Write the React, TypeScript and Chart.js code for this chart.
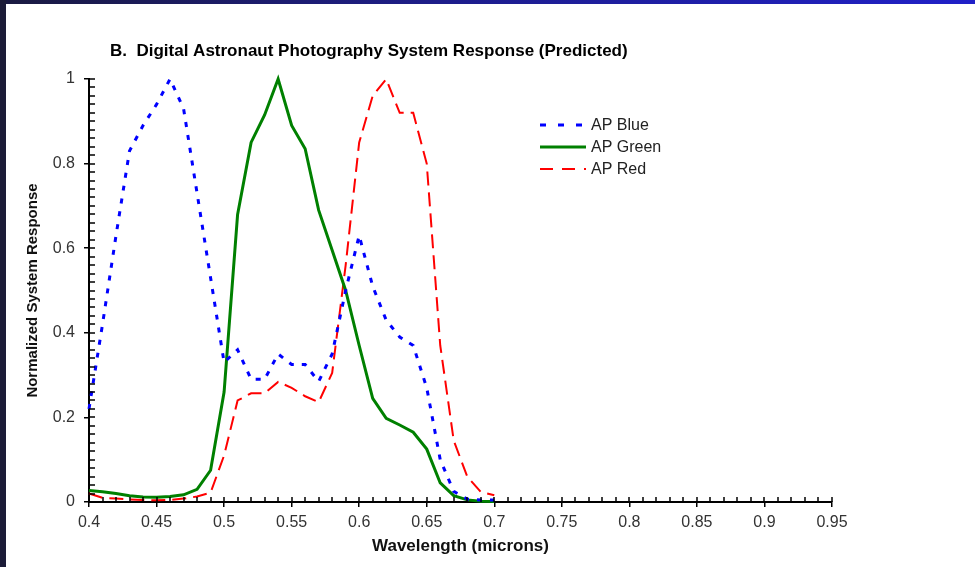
import { useEffect, useRef } from "react";
import { Chart, registerables } from "chart.js";

Chart.register(...registerables);

// Wavelength samples (microns)
const wavelengths = [
  0.40, 0.41, 0.42, 0.43, 0.44, 0.45, 0.46, 0.47, 0.48, 0.49,
  0.50, 0.51, 0.52, 0.53, 0.54, 0.55, 0.56, 0.57, 0.58, 0.59,
  0.60, 0.61, 0.62, 0.63, 0.64, 0.65, 0.66, 0.67, 0.68, 0.69, 0.70,
];

const apBlue = [
  0.22, 0.42, 0.63, 0.83, 0.89, 0.94, 1.0, 0.93, 0.73, 0.53,
  0.33, 0.36, 0.29, 0.29, 0.35, 0.325, 0.325, 0.285, 0.35, 0.50,
  0.63, 0.51, 0.43, 0.39, 0.37, 0.27, 0.10, 0.025, 0.007, 0.005, 0.005,
];

const apGreen = [
  0.027, 0.024, 0.02, 0.015, 0.012, 0.011, 0.013, 0.017, 0.03, 0.075,
  0.26, 0.68, 0.85, 0.915, 1.0, 0.89, 0.835, 0.69, 0.595, 0.50,
  0.37, 0.245, 0.198, 0.182, 0.165, 0.125, 0.045, 0.015, 0.005, 0.002, 0.001,
];

const apRed = [
  0.02, 0.01, 0.008, 0.006, 0.005, 0.004, 0.005, 0.008, 0.013, 0.022,
  0.11, 0.24, 0.257, 0.257, 0.284, 0.27, 0.25, 0.236, 0.305, 0.56,
  0.85, 0.96, 1.0, 0.92, 0.92, 0.80, 0.37, 0.145, 0.06, 0.024, 0.016,
];

const seriesNames = ["AP Blue", "AP Green", "AP Red"];
const seriesColors = ["#0000ff", "#008000", "#ff0000"];
const titleText = "B.  Digital Astronaut Photography System Response (Predicted)";
const xTitle = "Wavelength (microns)";
const yTitle = "Normalized System Response";

const FONT = "'Liberation Sans', Arial, Helvetica, sans-serif";

export default function App() {
  const canvasRef = useRef<HTMLCanvasElement | null>(null);

  useEffect(() => {
    document.body.style.margin = "0";
    const canvas = canvasRef.current;
    if (!canvas) return;

    const pts = (vals: number[]) => wavelengths.map((x, i) => ({ x, y: vals[i] }));

    const dashes = [[5, 8], [], [14, 7]];
    const legendDashes = [[6, 12], [], [13, 9]];
    const widths = [3, 3, 2];

    const decor = {
      id: "decor",
      afterDraw(chart: any) {
        const c = chart.ctx as CanvasRenderingContext2D;
        const xs = chart.scales.x;
        const ys = chart.scales.y;
        const { left, bottom } = chart.chartArea;
        c.save();
        // inner (minor + major) ticks
        c.strokeStyle = "#000";
        c.lineWidth = 1.5;
        c.setLineDash([]);
        c.beginPath();
        for (let i = 0; i <= 55; i++) {
          const px = Math.round(xs.getPixelForValue(0.4 + i * 0.01));
          c.moveTo(px, bottom);
          c.lineTo(px, bottom - 5);
        }
        for (let i = 0; i <= 50; i++) {
          const py = Math.round(ys.getPixelForValue(i * 0.02));
          c.moveTo(left, py);
          c.lineTo(left + 6, py);
        }
        c.stroke();

        // title
        c.fillStyle = "#000";
        c.font = `bold 17px ${FONT}`;
        c.textBaseline = "middle";
        c.textAlign = "left";
        c.fillText(titleText, 110, 51);

        // legend
        seriesNames.forEach((name, i) => {
          const y = 125 + i * 22;
          c.strokeStyle = seriesColors[i];
          c.lineWidth = widths[i];
          c.setLineDash(legendDashes[i]);
          c.beginPath();
          c.moveTo(540, y);
          c.lineTo(586, y);
          c.stroke();
          c.setLineDash([]);
          c.fillStyle = "#222";
          c.font = `16px ${FONT}`;
          c.fillText(name, 591, y + 1);
        });
        c.restore();
      },
    };

    const chart = new Chart(canvas, {
      type: "line",
      data: {
        datasets: [apBlue, apGreen, apRed].map((vals, i) => ({
          label: seriesNames[i],
          data: pts(vals),
          borderColor: seriesColors[i],
          backgroundColor: seriesColors[i],
          borderWidth: widths[i],
          borderDash: dashes[i],
          pointRadius: 0,
          tension: 0,
          fill: false,
          clip: 6,
        })),
      },
      options: {
        responsive: false,
        animation: false,
        parsing: true,
        layout: { padding: { left: 0, top: 79, right: 143, bottom: 0 } },
        plugins: {
          legend: { display: false },
          title: { display: false },
          tooltip: { enabled: false },
        },
        scales: {
          x: {
            type: "linear",
            min: 0.4,
            max: 0.95,
            afterFit: (s: any) => {
              s.height = 65;
            },
            ticks: {
              stepSize: 0.05,
              autoSkip: false,
              maxRotation: 0,
              padding: 6,
              color: "#333",
              font: { family: FONT, size: 16 },
              callback: (v: any) => String(Number(Number(v).toFixed(2))),
            },
            grid: {
              drawOnChartArea: false,
              drawTicks: true,
              tickLength: 5,
              color: "#000",
              lineWidth: 1.5,
            },
            border: { display: true, color: "#000", width: 2 },
            title: {
              display: true,
              text: xTitle,
              color: "#111",
              font: { family: FONT, size: 17, weight: "bold" },
              padding: { top: 0, bottom: 10 },
            },
          },
          y: {
            type: "linear",
            min: 0,
            max: 1,
            afterFit: (s: any) => {
              s.width = 89;
            },
            ticks: {
              stepSize: 0.2,
              padding: 9,
              color: "#333",
              font: { family: FONT, size: 16 },
              callback: (v: any) => String(Number(Number(v).toFixed(1))),
            },
            grid: {
              drawOnChartArea: false,
              drawTicks: true,
              tickLength: 5,
              color: "#000",
              lineWidth: 1.5,
            },
            border: { display: true, color: "#000", width: 2 },
            title: {
              display: true,
              text: yTitle,
              color: "#111",
              font: { family: FONT, size: 15, weight: "bold" },
              padding: { top: 24, bottom: 0 },
            },
          },
        },
      },
      plugins: [decor],
    } as any);

    return () => chart.destroy();
  }, []);

  return (
    <div style={{ position: "relative", width: 975, height: 567, background: "#fff", overflow: "hidden" }}>
      <canvas
        ref={canvasRef}
        width={975}
        height={567}
        style={{ position: "absolute", left: 0, top: 0, display: "block" }}
      />
      <div
        style={{
          position: "absolute",
          left: 0,
          top: 0,
          width: 975,
          height: 4,
          background: "linear-gradient(90deg, #1a1a40 0%, #1d1d8a 45%, #2020c8 100%)",
        }}
      />
      <div style={{ position: "absolute", left: 0, top: 0, width: 6, height: 567, background: "#1c1c38" }} />
    </div>
  );
}
